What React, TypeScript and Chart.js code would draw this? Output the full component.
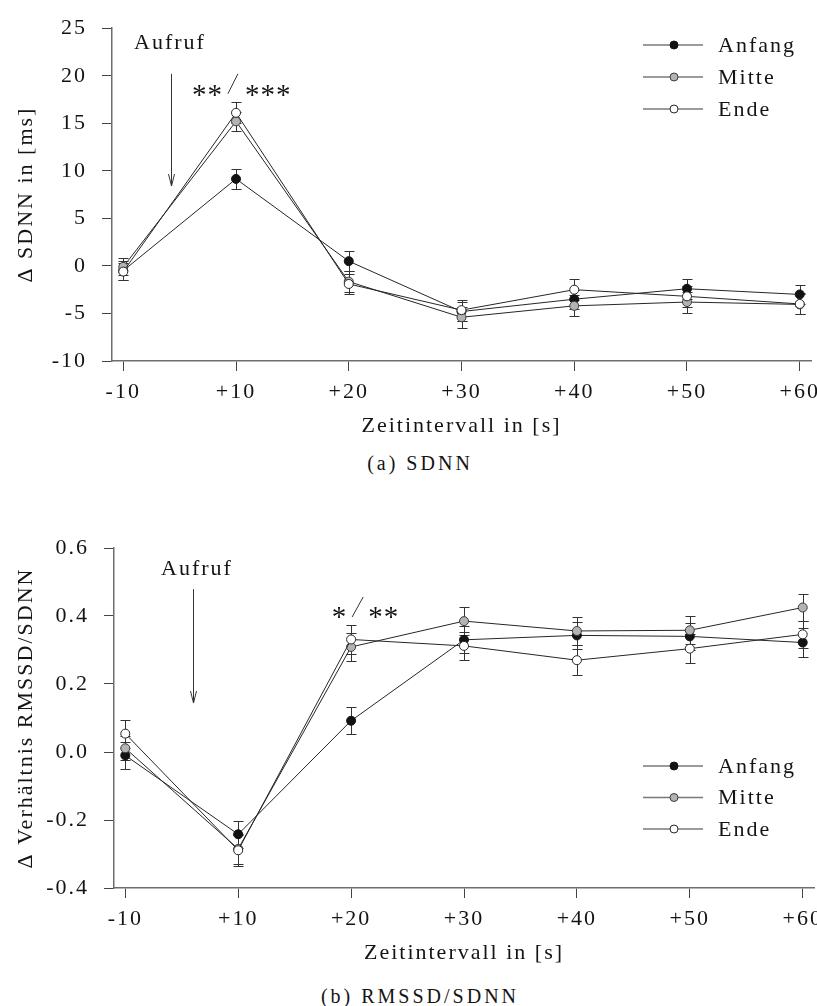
import React, { useEffect, useRef } from "react";
import { Chart, registerables } from "chart.js";

Chart.register(...registerables);

// Time intervals relative to the call (category axis)
const intervals = ["-10", "+10", "+20", "+30", "+40", "+50", "+60"];

// Δ SDNN [ms], mean and SEM per phase
const sdnnAnfang = [-0.5, 9.15, 0.5, -4.8, -3.5, -2.4, -3.0];
const sdnnAnfangErr = [1.0, 1.05, 1.05, 1.0, 1.0, 1.05, 1.0];
const sdnnMitte = [-0.1, 15.2, -1.65, -5.4, -4.2, -3.8, -4.05];
const sdnnMitteErr = [0.9, 1.0, 1.1, 1.1, 1.1, 1.1, 1.05];
const sdnnEnde = [-0.6, 16.1, -1.9, -4.65, -2.5, -3.2, -4.0];
const sdnnEndeErr = [0.9, 1.1, 1.1, 1.1, 1.1, 1.1, 1.1];

// Δ ratio RMSSD/SDNN, mean and SEM per phase
const ratioAnfang = [-0.01, -0.242, 0.092, 0.33, 0.343, 0.34, 0.322];
const ratioAnfangErr = [0.04, 0.04, 0.04, 0.04, 0.04, 0.04, 0.043];
const ratioMitte = [0.011, -0.285, 0.309, 0.385, 0.356, 0.358, 0.425];
const ratioMitteErr = [0.035, 0.045, 0.042, 0.041, 0.041, 0.041, 0.041];
const ratioEnde = [0.054, -0.289, 0.331, 0.312, 0.27, 0.304, 0.346];
const ratioEndeErr = [0.041, 0.045, 0.042, 0.042, 0.044, 0.042, 0.04];

// Y axis ticks
const sdnnTicks = [-10, -5, 0, 5, 10, 15, 20, 25];
const sdnnTickLabels = ["-10", "-5", "0", "5", "10", "15", "20", "25"];
const ratioTicks = [-0.4, -0.2, 0, 0.2, 0.4, 0.6];
const ratioTickLabels = ["-0.4", "-0.2", "0.0", "0.2", "0.4", "0.6"];

const seriesNames = ["Anfang", "Mitte", "Ende"];

const FAMILY = "'Liberation Serif', 'Times New Roman', serif";
const TEXT = "#141414";
const AXIS = "#6e6e6e";
const TICK = "#444444";
const LINE = "#262626";
const fills = ["#121212", "#b3b3b3", "#ffffff"];
const strokes = ["#121212", "#3c3c3c", "#262626"];

const letterSpacing = {
  id: "letterSpacing",
  beforeDraw(chart: any) {
    chart.ctx.letterSpacing = "2px";
  },
};

// Vertical SEM whiskers with caps, drawn under the markers
const errorBars = {
  id: "errorBars",
  beforeDatasetsDraw(chart: any) {
    const { ctx } = chart;
    const x = chart.scales.x;
    const y = chart.scales.y;
    ctx.save();
    ctx.strokeStyle = "#333333";
    ctx.lineWidth = 1;
    chart.data.datasets.forEach((ds: any) => {
      ds.data.forEach((p: any, i: number) => {
        const e = ds.errors[i];
        const px = Math.round(x.getPixelForValue(p.x)) + 0.5;
        const yt = Math.round(y.getPixelForValue(p.y + e)) + 0.5;
        const yb = Math.round(y.getPixelForValue(p.y - e)) + 0.5;
        ctx.beginPath();
        ctx.moveTo(px, yt);
        ctx.lineTo(px, yb);
        ctx.moveTo(px - 5, yt);
        ctx.lineTo(px + 5, yt);
        ctx.moveTo(px - 5, yb);
        ctx.lineTo(px + 5, yb);
        ctx.stroke();
      });
    });
    ctx.restore();
  },
};

// Line-with-marker key
const seriesKey = {
  id: "seriesKey",
  afterDraw(chart: any, _args: any, opts: any) {
    const { ctx } = chart;
    ctx.save();
    chart.data.datasets.forEach((ds: any, i: number) => {
      const yy = opts.top + i * opts.gap;
      ctx.strokeStyle = "#7a7a7a";
      ctx.lineWidth = 1.5;
      ctx.beginPath();
      ctx.moveTo(opts.left, yy);
      ctx.lineTo(opts.left + 60, yy);
      ctx.stroke();
      ctx.beginPath();
      ctx.arc(opts.left + 31, yy, 4, 0, Math.PI * 2);
      ctx.fillStyle = ds.pointBackgroundColor;
      ctx.fill();
      ctx.lineWidth = 1;
      ctx.strokeStyle = ds.pointBorderColor;
      ctx.stroke();
      ctx.fillStyle = TEXT;
      ctx.font = `22px ${FAMILY}`;
      ctx.textAlign = "left";
      ctx.textBaseline = "middle";
      ctx.fillText(ds.label, opts.left + 75, yy + 1);
    });
    ctx.restore();
  },
};

// "Aufruf" arrow and significance marks, placed in data units
const callout = {
  id: "callout",
  afterDraw(chart: any, _args: any, opts: any) {
    const { ctx } = chart;
    const x = chart.scales.x;
    const y = chart.scales.y;
    ctx.save();
    ctx.fillStyle = TEXT;
    ctx.strokeStyle = "#333333";
    ctx.lineWidth = 1;
    ctx.font = `22px ${FAMILY}`;
    ctx.textBaseline = "middle";
    ctx.textAlign = "center";
    ctx.fillText("Aufruf", x.getPixelForValue(opts.label[0]), y.getPixelForValue(opts.label[1]));

    const ax = Math.round(x.getPixelForValue(opts.arrow[0])) + 0.5;
    const a0 = y.getPixelForValue(opts.arrow[1]);
    const a1 = y.getPixelForValue(opts.arrow[2]);
    ctx.beginPath();
    ctx.moveTo(ax, a0);
    ctx.lineTo(ax, a1);
    ctx.moveTo(ax - 3, a1 - 12);
    ctx.lineTo(ax, a1);
    ctx.lineTo(ax + 3, a1 - 12);
    ctx.stroke();

    // significance stars, vertically centred on starsY
    ctx.font = `29px ${FAMILY}`;
    ctx.letterSpacing = "1px";
    ctx.textBaseline = "alphabetic";
    const m = ctx.measureText("*");
    const sy = y.getPixelForValue(opts.starsY) + (m.actualBoundingBoxAscent - m.actualBoundingBoxDescent) / 2;
    ctx.textAlign = "right";
    ctx.fillText(opts.left[0], x.getPixelForValue(opts.left[1]), sy);
    ctx.textAlign = "left";
    ctx.fillText(opts.right[0], x.getPixelForValue(opts.right[1]), sy);
    const s = opts.slash;
    ctx.beginPath();
    ctx.moveTo(x.getPixelForValue(s[0]), y.getPixelForValue(s[1]));
    ctx.lineTo(x.getPixelForValue(s[2]), y.getPixelForValue(s[3]));
    ctx.stroke();
    ctx.restore();
  },
};

function makeDatasets(values: number[][], errors: number[][]) {
  return values.map((vals, k) => ({
    label: seriesNames[k],
    data: vals.map((v, i) => ({ x: i, y: v })),
    errors: errors[k],
    borderColor: LINE,
    borderWidth: 1,
    tension: 0,
    pointRadius: 4.5,
    pointBorderWidth: 1,
    pointBackgroundColor: fills[k],
    pointBorderColor: strokes[k],
    order: 3 - k,
  }));
}

function makeConfig(p: any) {
  const font = { family: FAMILY, size: 22 };
  return {
    type: "line",
    data: { datasets: makeDatasets(p.values, p.errors) },
    options: {
      animation: false,
      responsive: false,
      events: [],
      layout: { padding: { left: 0, top: p.padTop, right: p.padRight, bottom: 0 } },
      plugins: {
        legend: { display: false },
        tooltip: { enabled: false },
        seriesKey: p.key,
        callout: p.callout,
      },
      scales: {
        x: {
          type: "linear",
          min: -0.1,
          max: 6.1,
          afterBuildTicks: (s: any) => {
            s.ticks = intervals.map((_, i) => ({ value: i }));
          },
          afterFit: (s: any) => {
            s.height = 78;
          },
          ticks: {
            callback: (_v: any, i: number) => intervals[i],
            font,
            color: TEXT,
            padding: 8,
            maxRotation: 0,
            autoSkip: false,
          },
          grid: { drawOnChartArea: false, drawTicks: true, tickLength: 10, color: TICK, lineWidth: 1 },
          border: { color: AXIS, width: 1.5 },
          title: { display: true, text: "Zeitintervall in [s]", font, color: TEXT, padding: { top: 0, bottom: 0 } },
        },
        y: {
          min: p.yTicks[0],
          max: p.yTicks[p.yTicks.length - 1],
          afterBuildTicks: (s: any) => {
            s.ticks = p.yTicks.map((v: number) => ({ value: v }));
          },
          afterFit: (s: any) => {
            s.width = p.yWidth;
          },
          ticks: {
            callback: (_v: any, i: number) => p.yLabels[i],
            font,
            color: TEXT,
            padding: 15,
          },
          grid: { drawOnChartArea: false, drawTicks: true, tickLength: 10, color: TICK, lineWidth: 1 },
          border: { color: AXIS, width: 1.5 },
          title: { display: true, text: p.yTitle, font, color: TEXT, padding: { top: 13, bottom: 0 } },
        },
      },
    },
    plugins: [letterSpacing, errorBars, seriesKey, callout],
  };
}

function Panel(props: { cfg: any; top: number; width: number; height: number }) {
  const ref = useRef<HTMLCanvasElement | null>(null);
  useEffect(() => {
    if (!ref.current) return;
    const chart = new Chart(ref.current, props.cfg);
    return () => chart.destroy();
  }, []);
  return (
    <canvas
      ref={ref}
      width={props.width}
      height={props.height}
      style={{ position: "absolute", left: 0, top: props.top, width: props.width, height: props.height }}
    />
  );
}

const sdnnConfig = makeConfig({
  values: [sdnnAnfang, sdnnMitte, sdnnEnde],
  errors: [sdnnAnfangErr, sdnnMitteErr, sdnnEndeErr],
  yTicks: sdnnTicks,
  yLabels: sdnnTickLabels,
  yTitle: "Δ SDNN in [ms]",
  yWidth: 112,
  padTop: 21,
  padRight: 49,
  key: { left: 643, top: 45, gap: 32 },
  callout: {
    label: [0.414, 23.4],
    arrow: [0.423, 20.2, 8.4],
    starsY: 18.5,
    left: ["**", 0.884],
    right: ["***", 1.079],
    slash: [0.928, 18.1, 1.017, 20.2],
  },
});

const ratioConfig = makeConfig({
  values: [ratioAnfang, ratioMitte, ratioEnde],
  errors: [ratioAnfangErr, ratioMitteErr, ratioEndeErr],
  yTicks: ratioTicks,
  yLabels: ratioTickLabels,
  yTitle: "Δ Verhältnis RMSSD/SDNN",
  yWidth: 114,
  padTop: 48,
  padRight: 46,
  key: { left: 643, top: 266, gap: 31.5 },
  callout: {
    label: [0.635, 0.538],
    arrow: [0.603, 0.479, 0.144],
    starsY: 0.41,
    left: ["*", 1.965],
    right: ["**", 2.151],
    slash: [2.009, 0.397, 2.107, 0.456],
  },
});

const caption: React.CSSProperties = {
  position: "absolute",
  left: 270,
  width: 300,
  textAlign: "center",
  fontFamily: FAMILY,
  fontSize: 20,
  lineHeight: "20px",
  letterSpacing: "3px",
  color: TEXT,
};

export default function App() {
  return (
    <div style={{ position: "absolute", left: 0, top: 0, width: 817, height: 1006, overflow: "hidden", background: "#fff" }}>
      <Panel cfg={sdnnConfig} top={0} width={860} height={439} />
      <div style={{ ...caption, top: 453 }}>(a) SDNN</div>
      <Panel cfg={ratioConfig} top={500} width={860} height={466} />
      <div style={{ ...caption, top: 986 }}>(b) RMSSD/SDNN</div>
    </div>
  );
}
